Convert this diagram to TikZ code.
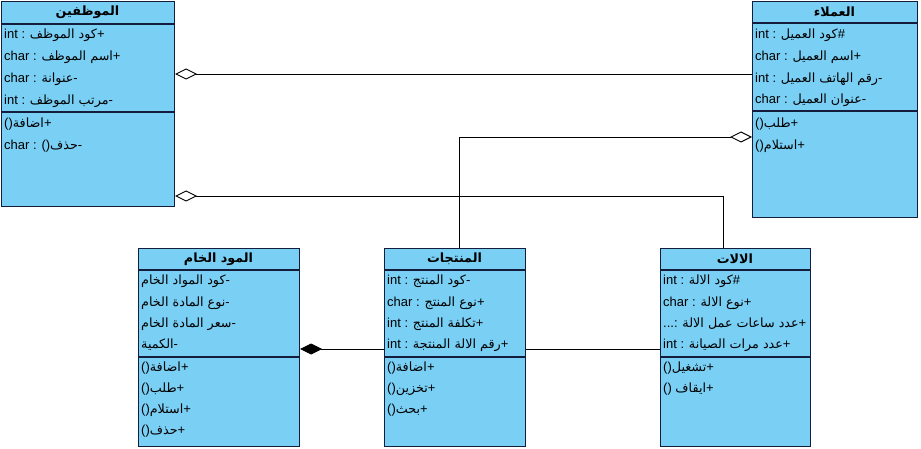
\documentclass[tikz,border=0pt]{standalone}
\usepackage{fontspec}
\setmainfont{Liberation Sans}
\newfontfamily\ar[Script=Arabic,Scale=0.98]{DejaVu Sans}
\TeXXeTstate=1
\usetikzlibrary{arrows.meta,positioning}
\definecolor{clsfill}{RGB}{122,207,245}
\definecolor{clsline}{RGB}{20,30,60}
\newcommand\ara[1]{{\ar\beginR #1\endR}}

\begin{document}
\begin{tikzpicture}[x=1pt,y=-1pt,font=\fontsize{13}{15}\selectfont,
  cls/.style={draw=clsline,fill=clsfill,line width=1.2pt,anchor=north west,inner sep=0pt},
  sep/.style={draw=clsline,line width=1.2pt},
  ttl/.style={font=\fontsize{13}{15}\selectfont\ar\bfseries},
  txt/.style={anchor=west,inner sep=0pt},
  agg/.style={{Diamond[fill=white,length=22pt,width=11pt]}-,line width=0.9pt},
  comp/.style={{Diamond[fill=black,length=22pt,width=11pt]}-,line width=0.9pt}]
\useasboundingbox (0,0) rectangle (921,449);

% Employees
\node[cls,minimum width=173pt,minimum height=205pt] (emp) at (1,1) {};
\draw[sep] (emp.west |- 0,24) -- (emp.east |- 0,24);
\draw[sep] (emp.west |- 0,112) -- (emp.east |- 0,112);
\node[ttl] (empt) at (87.5,12) {\ara{الموظفين}};
\node[txt] (emp1) at (4,35) {int : \ara{كود الموظف}+};
\node[txt] (emp2) at (4,57) {char : \ara{اسم الموظف}+};
\node[txt] (emp3) at (4,79) {char : \ara{عنوانة}-};
\node[txt] (emp4) at (4,101) {int : \ara{مرتب الموظف}-};
\node[txt] (empm1) at (4,124) {()\ara{اضافة}+};
\node[txt] (empm2) at (4,146) {char : ()\ara{حذف}-};

% Customers
\node[cls,minimum width=165pt,minimum height=216pt] (cust) at (752,1) {};
\draw[sep] (cust.west |- 0,23) -- (cust.east |- 0,23);
\draw[sep] (cust.west |- 0,111) -- (cust.east |- 0,111);
\node[ttl] (custt) at (834.5,12) {\ara{العملاء}};
\node[txt] (cust1) at (755,35) {int : \ara{كود العميل}\#};
\node[txt] (cust2) at (755,57) {char : \ara{اسم العميل}+};
\node[txt] (cust3) at (755,79) {int : \ara{رقم الهاتف العميل}-};
\node[txt] (cust4) at (755,100) {char : \ara{عنوان العميل}-};
\node[txt] (custm1) at (755,124) {()\ara{طلب}+};
\node[txt] (custm2) at (755,146) {()\ara{استلام}+};

% Raw materials
\node[cls,minimum width=161pt,minimum height=198pt] (raw) at (138,248) {};
\draw[sep] (raw.west |- 0,270) -- (raw.east |- 0,270);
\draw[sep] (raw.west |- 0,357) -- (raw.east |- 0,357);
\node[ttl] (rawt) at (218.5,259) {\ara{المود الخام}};
\node[txt] (raw1) at (141,281) {\ara{كود المواد الخام}-};
\node[txt] (raw2) at (141,303) {\ara{نوع المادة الخام}-};
\node[txt] (raw3) at (141,324) {\ara{سعر المادة الخام}-};
\node[txt] (raw4) at (141,345) {\ara{الكمية}-};
\node[txt] (rawm1) at (141,368) {()\ara{اضافة}+};
\node[txt] (rawm2) at (141,389) {()\ara{طلب}+};
\node[txt] (rawm3) at (141,410) {()\ara{استلام}+};
\node[txt] (rawm4) at (141,431) {()\ara{حذف}+};

% Products
\node[cls,minimum width=141pt,minimum height=198pt] (prod) at (384,248) {};
\draw[sep] (prod.west |- 0,270) -- (prod.east |- 0,270);
\draw[sep] (prod.west |- 0,357) -- (prod.east |- 0,357);
\node[ttl] (prodt) at (454.5,259) {\ara{المنتجات}};
\node[txt] (prod1) at (387,281) {int : \ara{كود المنتج}-};
\node[txt] (prod2) at (387,303) {char : \ara{نوع المنتج}+};
\node[txt] (prod3) at (387,324) {int : \ara{تكلفة المنتج}+};
\node[txt] (prod4) at (387,345) {int : \ara{رقم الالة المنتجة}+};
\node[txt] (prodm1) at (387,368) {()\ara{اضافة}+};
\node[txt] (prodm2) at (387,389) {()\ara{تخزين}+};
\node[txt] (prodm3) at (387,410) {()\ara{بحث}+};

% Machines
\node[cls,minimum width=150pt,minimum height=198pt] (mach) at (660,248) {};
\draw[sep] (mach.west |- 0,270) -- (mach.east |- 0,270);
\draw[sep] (mach.west |- 0,357) -- (mach.east |- 0,357);
\node[ttl] (macht) at (735,259) {\ara{الالات}};
\node[txt] (mach1) at (663,281) {int : \ara{كود الالة}\#};
\node[txt] (mach2) at (663,303) {char : \ara{نوع الالة}+};
\node[txt] (mach3) at (663,324) {...: \ara{عدد ساعات عمل الالة}+};
\node[txt] (mach4) at (663,345) {int : \ara{عدد مرات الصيانة}+};
\node[txt] (machm1) at (663,368) {()\ara{تشغيل}+};
\node[txt] (machm2) at (663,389) {() \ara{ايقاف}+};

% links
\draw[agg] (emp.east |- 0,74) -- (cust.west |- 0,74);
\draw[agg] (emp.east |- 0,196) -| ([xshift=63pt]mach.north west);
\draw[agg] (cust.west |- 0,137) -| ([xshift=75pt]prod.north west);
\draw[comp] (raw.east |- 0,349) -- (prod.west |- 0,349);
\draw[line width=0.9pt] (prod.east |- 0,349) -- (mach.west |- 0,349);
\end{tikzpicture}
\end{document}
